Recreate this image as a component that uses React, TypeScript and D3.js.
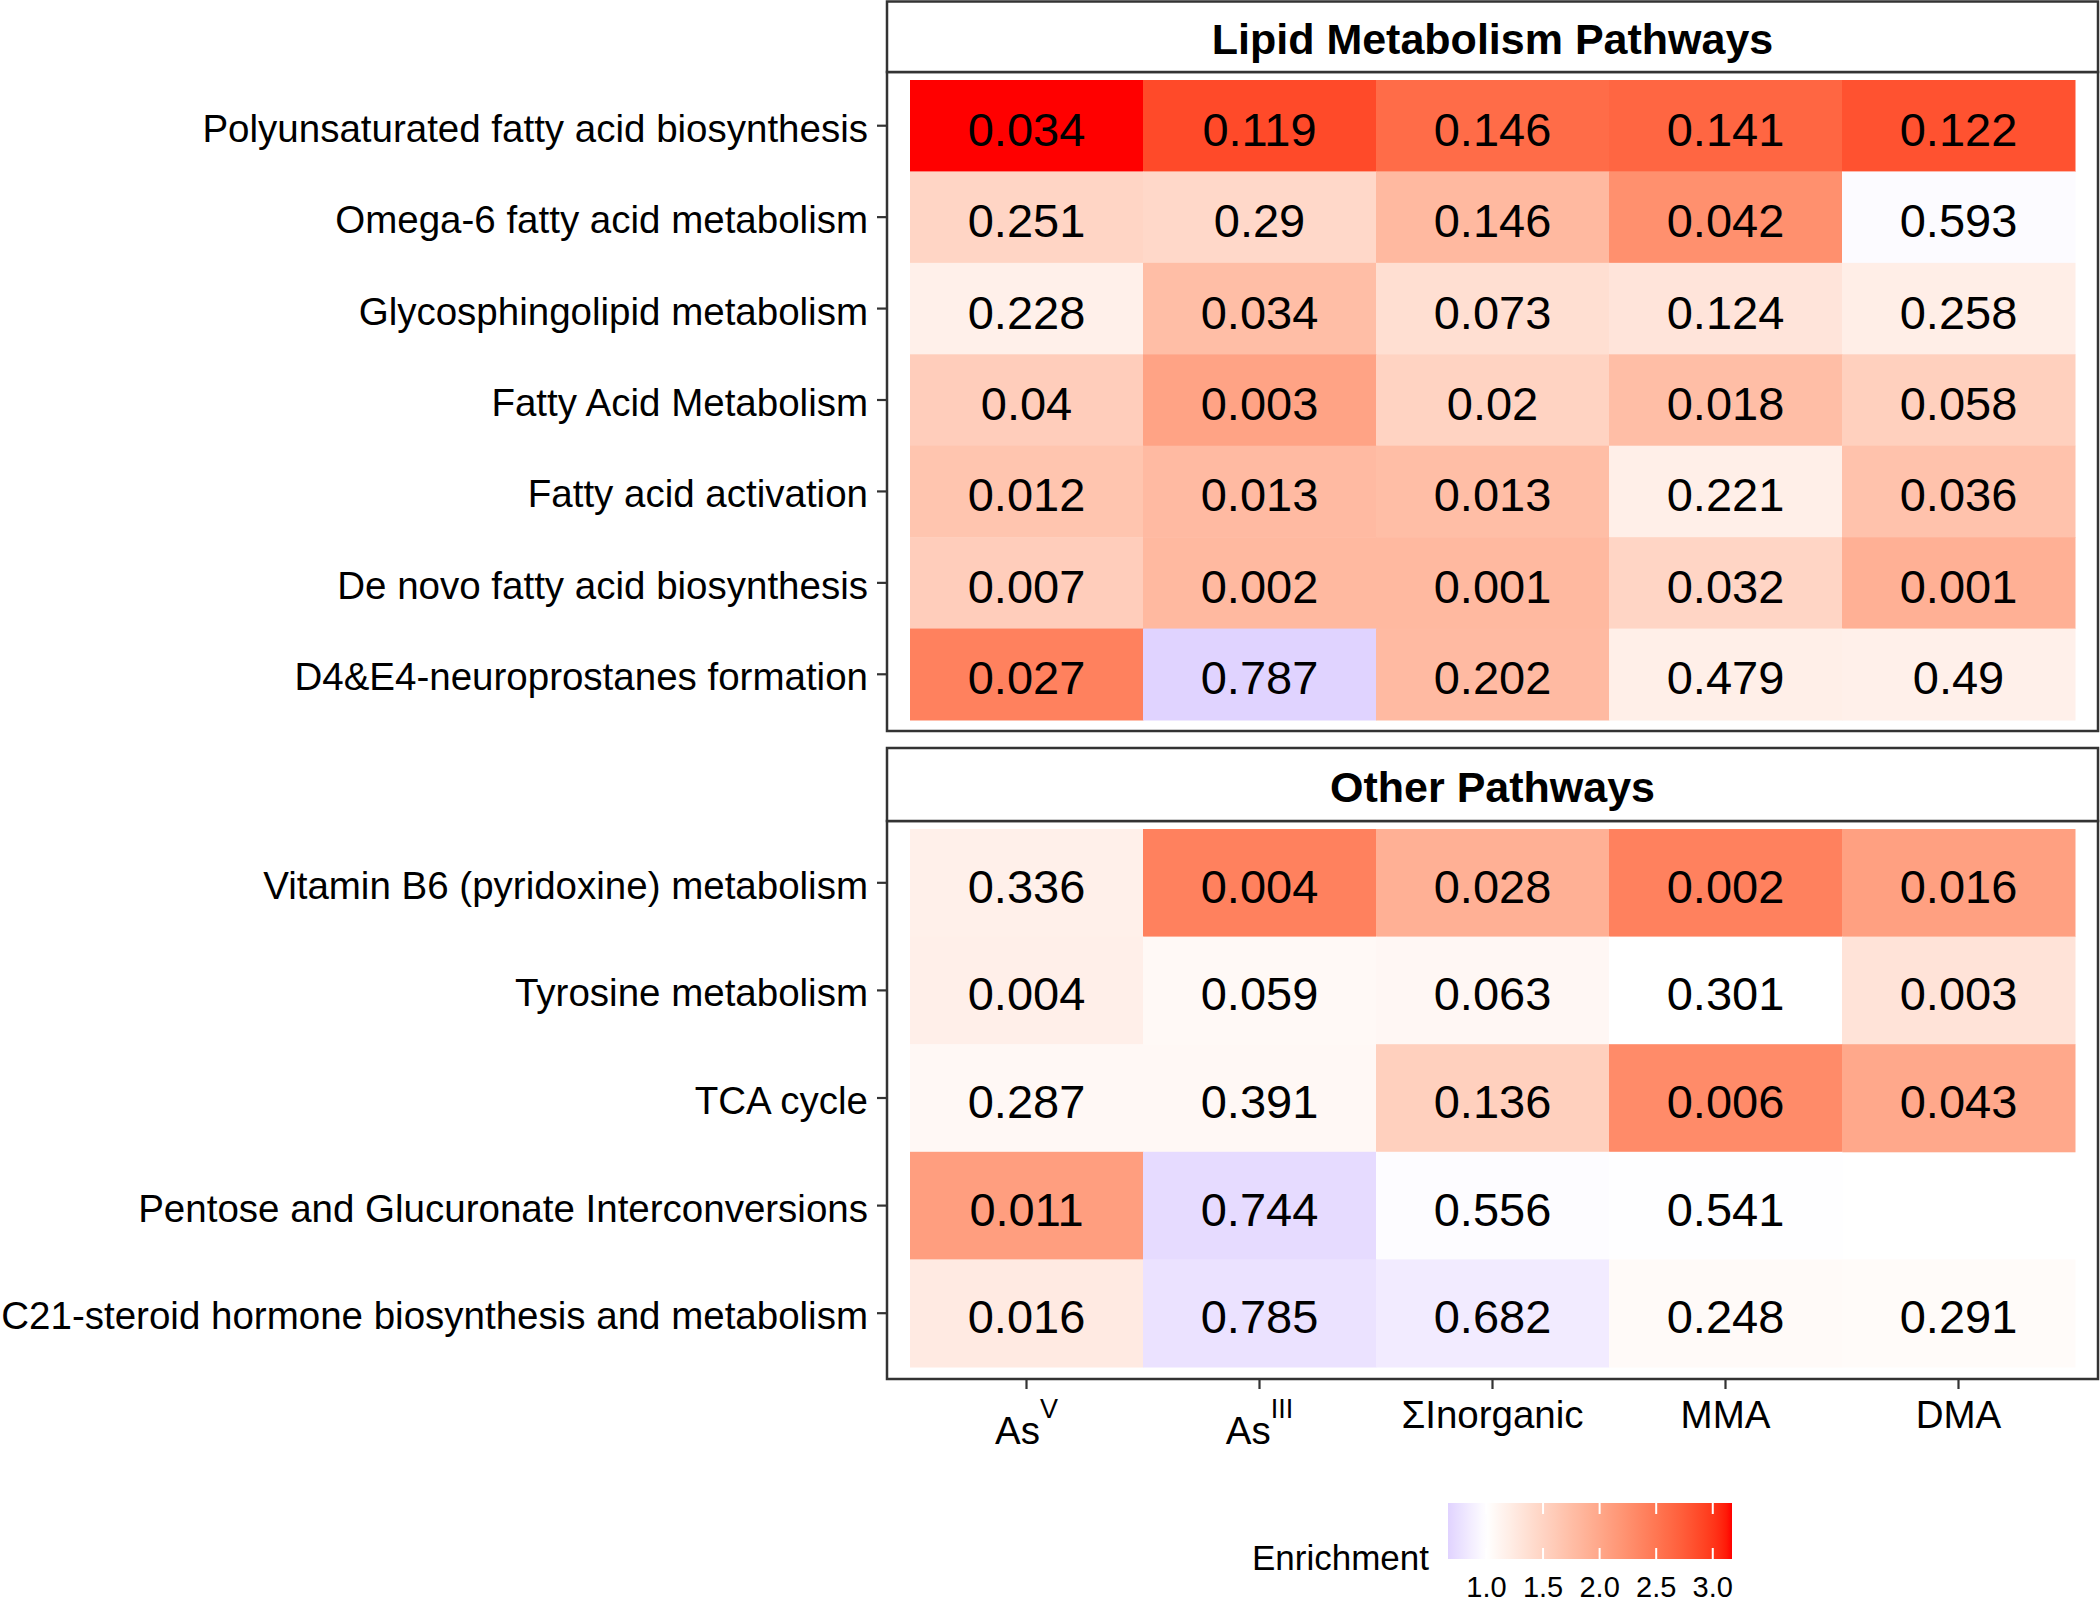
import React from "react";
import * as d3 from "d3";

const columns = ["AsV", "AsIII", "ΣInorganic", "MMA", "DMA"];

const lipidRows = [
  "Polyunsaturated fatty acid biosynthesis",
  "Omega-6 fatty acid metabolism",
  "Glycosphingolipid metabolism",
  "Fatty Acid Metabolism",
  "Fatty acid activation",
  "De novo fatty acid biosynthesis",
  "D4&E4-neuroprostanes formation",
];
const lipidPValues = [
  ["0.034", "0.119", "0.146", "0.141", "0.122"],
  ["0.251", "0.29", "0.146", "0.042", "0.593"],
  ["0.228", "0.034", "0.073", "0.124", "0.258"],
  ["0.04", "0.003", "0.02", "0.018", "0.058"],
  ["0.012", "0.013", "0.013", "0.221", "0.036"],
  ["0.007", "0.002", "0.001", "0.032", "0.001"],
  ["0.027", "0.787", "0.202", "0.479", "0.49"],
];
const lipidEnrichment = [
  [3.17, 2.88, 2.6, 2.65, 2.82],
  [1.48, 1.45, 1.8, 2.25, 0.97],
  [1.17, 1.75, 1.37, 1.31, 1.2],
  [1.57, 2.04, 1.51, 1.75, 1.54],
  [1.67, 1.79, 1.75, 1.19, 1.7],
  [1.57, 1.8, 1.8, 1.48, 1.9],
  [2.4, 0.66, 1.79, 1.19, 1.17],
];

const otherRows = [
  "Vitamin B6 (pyridoxine) metabolism",
  "Tyrosine metabolism",
  "TCA cycle",
  "Pentose and Glucuronate Interconversions",
  "C21-steroid hormone biosynthesis and metabolism",
];
const otherPValues = [
  ["0.336", "0.004", "0.028", "0.002", "0.016"],
  ["0.004", "0.059", "0.063", "0.301", "0.003"],
  ["0.287", "0.391", "0.136", "0.006", "0.043"],
  ["0.011", "0.744", "0.556", "0.541", null],
  ["0.016", "0.785", "0.682", "0.248", "0.291"],
];
const otherEnrichment = [
  [1.17, 2.4, 1.9, 2.4, 2.08],
  [1.18, 1.07, 1.09, 1.0, 1.32],
  [1.08, 1.08, 1.54, 2.3, 1.99],
  [2.1, 0.72, 0.98, 0.99, null],
  [1.24, 0.78, 0.85, 1.06, 1.05],
];

const legendBreaks = [1.0, 1.5, 2.0, 2.5, 3.0];

const FONT = "'Liberation Sans', Arial, Helvetica, sans-serif";
const BORDER = "#333333";

const allVals = [...lipidEnrichment.flat(), ...otherEnrichment.flat()].filter(
  (v) => v !== null
) as number[];
const [vMin, vMax] = d3.extent(allVals) as [number, number];

const color = d3
  .scaleLinear<string>()
  .domain([vMin, 1, vMax])
  .range(["#E0D3FF", "#FFFFFF", "#FF0000"])
  .interpolate(d3.interpolateLab);

const x = d3.scaleBand<string>().domain(columns).range([910, 2075]).padding(0);

type PanelProps = {
  title: string;
  rows: string[];
  pvals: (string | null)[][];
  enr: (number | null)[][];
  top: number;
  stripBottom: number;
  cellTop: number;
  cellBottom: number;
  bottom: number;
};

function Panel({ title, rows, pvals, enr, top, stripBottom, cellTop, cellBottom, bottom }: PanelProps) {
  const y = d3.scaleBand<string>().domain(rows).range([cellTop, cellBottom]).padding(0);
  const left = 887;
  const right = 2098;
  return (
    <g>
      {rows.map((r, i) =>
        columns.map((c, j) => {
          const v = enr[i][j];
          if (v === null) return null;
          return (
            <rect
              key={r + c}
              x={x(c)}
              y={y(r)}
              width={x.bandwidth() + 0.5}
              height={y.bandwidth() + 0.5}
              fill={color(v)}
            />
          );
        })
      )}
      {rows.map((r, i) =>
        columns.map((c, j) => {
          const p = pvals[i][j];
          if (p === null) return null;
          return (
            <text
              key={"t" + r + c}
              x={(x(c) as number) + x.bandwidth() / 2}
              y={(y(r) as number) + y.bandwidth() / 2 + 20}
              textAnchor="middle"
              fontSize={47}
              fontFamily={FONT}
              fill="#000"
            >
              {p}
            </text>
          );
        })
      )}
      {/* panel border */}
      <rect x={left} y={stripBottom} width={right - left} height={bottom - stripBottom} fill="none" stroke={BORDER} strokeWidth={2.5} />
      {/* strip */}
      <rect x={left} y={top} width={right - left} height={stripBottom - top} fill="#FFFFFF" stroke={BORDER} strokeWidth={2.5} />
      <text
        x={(left + right) / 2}
        y={(top + stripBottom) / 2 + 17}
        textAnchor="middle"
        fontSize={43}
        fontWeight="bold"
        fontFamily={FONT}
        fill="#000"
      >
        {title}
      </text>
      {/* y axis */}
      {rows.map((r) => {
        const cy = (y(r) as number) + y.bandwidth() / 2;
        return (
          <g key={"y" + r}>
            <line x1={877} x2={887} y1={cy} y2={cy} stroke={BORDER} strokeWidth={2.2} />
            <text x={868} y={cy + 16} textAnchor="end" fontSize={38.5} fontFamily={FONT} fill="#000">
              {r}
            </text>
          </g>
        );
      })}
    </g>
  );
}

function XLabel({ name, cx }: { name: string; cx: number }) {
  if (name === "AsV" || name === "AsIII") {
    const sup = name === "AsV" ? "V" : "III";
    return (
      <text x={cx} y={1444} textAnchor="middle" fontSize={38.5} fontFamily={FONT} fill="#000">
        As
        <tspan fontSize={27} dy={-26}>
          {sup}
        </tspan>
      </text>
    );
  }
  return (
    <text x={cx} y={1428} textAnchor="middle" fontSize={38.5} fontFamily={FONT} fill="#000">
      {name}
    </text>
  );
}

export default function App() {
  const legX = d3.scaleLinear().domain([vMin, vMax]).range([1448, 1732]);
  const stops = d3.range(0, 1.0001, 0.02).map((t) => ({
    offset: t,
    col: color(vMin + t * (vMax - vMin)),
  }));
  const legTop = 1503;
  const legBottom = 1559;
  return (
    <svg
      width={2100}
      height={1603}
      style={{ position: "absolute", left: 0, top: 0, background: "#fff" }}
    >
      <rect x={0} y={0} width={2100} height={1603} fill="#fff" />
      <Panel
        title="Lipid Metabolism Pathways"
        rows={lipidRows}
        pvals={lipidPValues}
        enr={lipidEnrichment}
        top={1.5}
        stripBottom={72}
        cellTop={80}
        cellBottom={720}
        bottom={731}
      />
      <Panel
        title="Other Pathways"
        rows={otherRows}
        pvals={otherPValues}
        enr={otherEnrichment}
        top={748}
        stripBottom={821}
        cellTop={829}
        cellBottom={1367}
        bottom={1379}
      />
      {/* x axis */}
      {columns.map((c) => {
        const cx = (x(c) as number) + x.bandwidth() / 2;
        return (
          <g key={"x" + c}>
            <line x1={cx} x2={cx} y1={1379} y2={1389} stroke={BORDER} strokeWidth={2.2} />
            <XLabel name={c} cx={cx} />
          </g>
        );
      })}
      {/* legend */}
      <defs>
        <linearGradient id="legGrad" x1="0" x2="1" y1="0" y2="0">
          {stops.map((s, i) => (
            <stop key={i} offset={s.offset} stopColor={s.col} />
          ))}
        </linearGradient>
      </defs>
      <text x={1429} y={1570} textAnchor="end" fontSize={35} fontFamily={FONT} fill="#000">
        Enrichment
      </text>
      <rect x={1448} y={legTop} width={1732 - 1448} height={legBottom - legTop} fill="url(#legGrad)" />
      {legendBreaks.map((b) => (
        <g key={"lb" + b}>
          <line x1={legX(b)} x2={legX(b)} y1={legTop} y2={legTop + 11} stroke="#fff" strokeWidth={2} />
          <line x1={legX(b)} x2={legX(b)} y1={legBottom - 11} y2={legBottom} stroke="#fff" strokeWidth={2} />
          <text x={legX(b)} y={1597} textAnchor="middle" fontSize={29} fontFamily={FONT} fill="#000">
            {b.toFixed(1)}
          </text>
        </g>
      ))}
    </svg>
  );
}
